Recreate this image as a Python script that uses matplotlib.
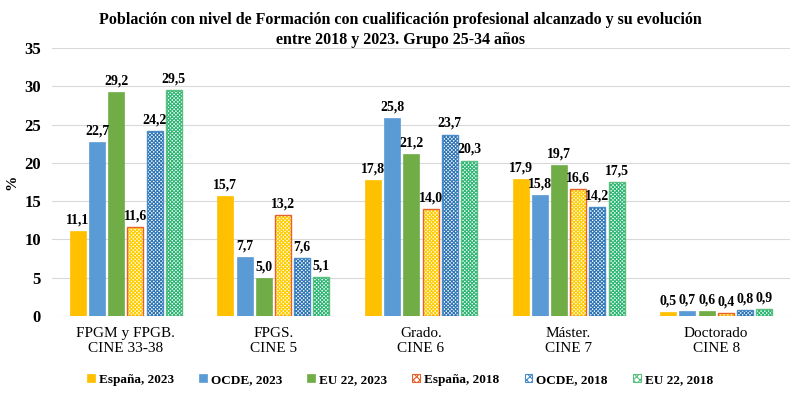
import numpy as np
import matplotlib.pyplot as plt

plt.rcParams['font.family'] = ['Liberation Serif', 'DejaVu Serif']
plt.rcParams['hatch.linewidth'] = 0.8

categorias = ['FPGM y FPGB.\nCINE 33-38', 'FPGS.\nCINE 5', 'Grado.\nCINE 6',
              'Máster.\nCINE 7', 'Doctorado\nCINE 8']
series = ['España, 2023', 'OCDE, 2023', 'EU 22, 2023',
          'España, 2018', 'OCDE, 2018', 'EU 22, 2018']
espana_2023 = [11.1, 15.7, 17.8, 17.9, 0.5]
ocde_2023 = [22.7, 7.7, 25.8, 15.8, 0.7]
eu22_2023 = [29.2, 5.0, 21.2, 19.7, 0.6]
espana_2018 = [11.6, 13.2, 14.0, 16.6, 0.4]
ocde_2018 = [24.2, 7.6, 23.7, 14.2, 0.8]
eu22_2018 = [29.5, 5.1, 20.3, 17.5, 0.9]
valores = [espana_2023, ocde_2023, eu22_2023, espana_2018, ocde_2018, eu22_2018]

# relleno, color de trama, borde
estilos = [
    ('#FFC000', None, '#FFC000'),
    ('#5B9BD5', None, '#5B9BD5'),
    ('#70AD47', None, '#70AD47'),
    ('white', '#FFCC00', '#E8602C'),
    ('white', '#2E75B6', '#4A8CC8'),
    ('white', '#2BB673', '#5CBF80'),
]
trama = 'x' * 9

fig = plt.figure(figsize=(8, 3.97), dpi=100)
ax = fig.add_axes([0.065, 0.204, 0.9225, 0.675])

x = np.arange(len(categorias))
paso = 0.13
ancho = 0.108

handles = []
for i, (nombre, vals, (fc, hc, ec)) in enumerate(zip(series, valores, estilos)):
    pos = x + (i - 2.5) * paso
    if hc is None:
        b = ax.bar(pos, vals, ancho, color=fc, edgecolor=ec, linewidth=0.5,
                   label=nombre, zorder=3)
        handles.append(b)
    else:
        ax.bar(pos, vals, ancho, color=fc, edgecolor=hc, hatch=trama,
               linewidth=0, zorder=3)
        ax.bar(pos, vals, ancho, color='none', edgecolor=ec, linewidth=1.0,
               zorder=4)
        h = plt.Rectangle((0, 0), 1, 1, facecolor=fc, edgecolor=ec, hatch='xxxxx',
                          linewidth=0.8)
        handles.append(h)
    for xp, v in zip(pos, vals):
        ax.text(xp, v + 0.6, f'{v:.1f}'.replace('.', ','), ha='center',
                va='bottom', fontsize=10, fontweight='bold', zorder=5)

ax.set_xlim(-0.5, 4.5)
ax.set_ylim(0, 35)
ax.set_yticks(range(0, 36, 5))
ax.set_xticks(x)
ax.set_xticklabels(categorias, fontsize=11, linespacing=1.2)
for t in ax.get_yticklabels():
    t.set_fontweight('bold')
    t.set_fontsize(12)
ax.tick_params(length=0, pad=8)
ax.tick_params(axis='x', pad=8)
ax.grid(axis='y', color='#D9D9D9', linewidth=0.8, zorder=0)
for s in ax.spines.values():
    s.set_visible(False)
ax.set_ylabel('%', fontsize=11, fontweight='bold', labelpad=4)

fig.suptitle('Población con nivel de Formación con cualificación profesional alcanzado y su evolución\n'
             'entre 2018 y 2023. Grupo 25-34 años', fontsize=11.5, fontweight='bold',
             y=0.97, linespacing=1.3)

fig.legend(handles, series, loc='center', bbox_to_anchor=(0.5, 0.043), ncol=6,
           frameon=False, prop={'size': 9.5, 'weight': 'bold'},
           handlelength=0.6, handleheight=0.6,
           handletextpad=0.3, columnspacing=1.9)

fig.savefig('out.png', dpi=100)
